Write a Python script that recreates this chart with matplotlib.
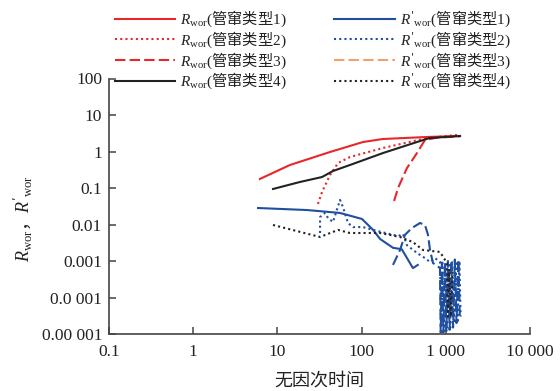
import matplotlib
matplotlib.use("Agg")
import matplotlib.pyplot as plt
from matplotlib.lines import Line2D
from matplotlib.ticker import FixedLocator, FixedFormatter, NullLocator

plt.rcParams['font.family'] = ['Liberation Serif', 'Noto Sans CJK SC']
plt.rcParams['mathtext.fontset'] = 'custom'
plt.rcParams['mathtext.rm'] = 'Noto Sans CJK SC'
plt.rcParams['mathtext.sf'] = 'Liberation Serif'
plt.rcParams['mathtext.it'] = 'Liberation Serif:italic'

# ---- data ----
r1_x = [6.2, 14.1, 42.2, 104, 179, 598, 1475]
r1_y = [0.177, 0.427, 0.97, 1.82, 2.2, 2.5, 2.66]

r2_x = [30.3, 33.9, 42.2, 52.5, 72.8, 180, 598, 1475]
r2_y = [0.0365, 0.078, 0.227, 0.484, 0.706, 1.25, 2.34, 2.9]

r3_x = [243, 271, 346, 455, 566, 800, 1475]
r3_y = [0.044, 0.1, 0.353, 0.91, 2.07, 2.4, 2.6]

r4_x = [8.87, 18.5, 33.9, 45.7, 72.8, 180, 455, 643, 1475]
r4_y = [0.094, 0.146, 0.2, 0.292, 0.427, 0.91, 1.82, 2.34, 2.66]

p1_x = [5.89, 22.5, 55.5, 101, 137, 166, 236, 300, 407, 465]
p1_y = [0.0283, 0.0249, 0.0207, 0.0142, 0.0071, 0.004, 0.0023, 0.0021, 0.00064, 0.00078]

p2_x = [32.1, 32.1, 36.7, 39.9, 45.7, 55.5, 60.1, 68.9, 79, 104, 137, 190, 271, 310,
        346, 455, 566, 649, 745, 853, 880, 910, 950, 990, 1030, 1080, 1130, 1190,
        1250, 1310, 1380, 1450, 1500]
p2_y = [0.00585, 0.016, 0.0207, 0.0151, 0.0117, 0.047, 0.030, 0.011, 0.0085, 0.0085,
        0.0071, 0.0059, 0.0048, 0.0055, 0.0027, 0.00166, 0.0012, 0.00094, 0.0012,
        0.00094, 0.000015, 0.0009, 0.000012, 0.0008, 0.000015, 0.0009, 0.000015,
        0.001, 0.00002, 0.001, 0.00002, 0.001, 0.00003]

p3_x = [236, 286, 327, 396, 494, 566, 615, 649, 705, 853, 870, 900, 935, 975, 1015,
        1060, 1110, 1160, 1220, 1280, 1340, 1410, 1470]
p3_y = [0.00078, 0.002, 0.0052, 0.008, 0.011, 0.0097, 0.0052, 0.002, 0.00088, 0.00064,
        0.000011, 0.0009, 0.000011, 0.0009, 0.000012, 0.001, 0.000013, 0.001, 0.000015,
        0.0011, 0.00002, 0.0011, 0.000025]

p4_x = [8.87, 32.1, 52.5, 72.8, 166, 286, 407, 536, 853, 1033, 1060, 1100, 1150, 1200]
p4_y = [0.0097, 0.00455, 0.0071, 0.00585, 0.00585, 0.00455, 0.0033, 0.002, 0.00177,
        0.00088, 0.00003, 0.0006, 0.00003, 0.0005]

x_ticks = [0.1, 1, 10, 100, 1000, 10000]
x_labels = ['0.1', '1', '10', '100', '1 000', '10 000']
y_ticks = [1e-5, 1e-4, 1e-3, 1e-2, 1e-1, 1, 10, 100]
y_labels = ['0.00 001', '0.0 001', '0.001', '0.01', '0.1', '1', '10', '100']

legend_labels = [r'$R_{\mathsf{wor}}\mathsf{(}\mathrm{管窜类型}\mathsf{1)}$',
                 r'$R_{\mathsf{wor}}\mathsf{(}\mathrm{管窜类型}\mathsf{2)}$',
                 r'$R_{\mathsf{wor}}\mathsf{(}\mathrm{管窜类型}\mathsf{3)}$',
                 r'$R_{\mathsf{wor}}\mathsf{(}\mathrm{管窜类型}\mathsf{4)}$',
                 r"$R'_{\mathsf{wor}}\mathsf{(}\mathrm{管窜类型}\mathsf{1)}$",
                 r"$R'_{\mathsf{wor}}\mathsf{(}\mathrm{管窜类型}\mathsf{2)}$",
                 r"$R'_{\mathsf{wor}}\mathsf{(}\mathrm{管窜类型}\mathsf{3)}$",
                 r"$R'_{\mathsf{wor}}\mathsf{(}\mathrm{管窜类型}\mathsf{4)}$"]

RED = '#e8272b'
BLUE = '#1f4f9f'
BLACK = '#222222'
ORANGE = '#f3a06e'

fig = plt.figure(figsize=(5.6, 3.91), dpi=100)
ax = fig.add_axes([109/560, 57/391, 421/560, 255.5/391])

lw = 1.5
dash = (0, (5, 2))
dot = (0, (1, 1.5))
h1, = ax.plot(r1_x, r1_y, color=RED, lw=lw, ls='-')
h2, = ax.plot(r2_x, r2_y, color=RED, lw=lw, ls=dot)
h3, = ax.plot(r3_x, r3_y, color=RED, lw=lw, ls=dash)
h4, = ax.plot(r4_x, r4_y, color=BLACK, lw=lw, ls='-')
h5, = ax.plot(p1_x, p1_y, color=BLUE, lw=lw, ls='-')
h6, = ax.plot(p2_x, p2_y, color=BLUE, lw=lw, ls=dot)
ax.plot(p3_x, p3_y, color=BLUE, lw=lw, ls=dash)
h7 = Line2D([], [], color=ORANGE, lw=lw, ls=dash)
h8, = ax.plot(p4_x, p4_y, color=BLACK, lw=lw, ls=dot)

ax.set_xscale('log')
ax.set_yscale('log')
ax.set_xlim(0.1, 10000)
ax.set_ylim(1e-5, 100)
ax.xaxis.set_major_locator(FixedLocator(x_ticks))
ax.xaxis.set_major_formatter(FixedFormatter(x_labels))
ax.yaxis.set_major_locator(FixedLocator(y_ticks))
ax.yaxis.set_major_formatter(FixedFormatter(y_labels))
ax.xaxis.set_minor_locator(NullLocator())
ax.yaxis.set_minor_locator(NullLocator())

for s in ['top', 'right']:
    ax.spines[s].set_visible(False)
for s in ['left', 'bottom']:
    ax.spines[s].set_color('#444444')
    ax.spines[s].set_linewidth(1.2)
ax.tick_params(axis='both', direction='in', length=5, width=1.1, color='#444444',
               labelsize=12.5, labelcolor='#222222')
ax.tick_params(axis='x', pad=7)
ax.tick_params(axis='y', pad=5)

fig.text(319.5/560, 1 - 381/391, '无因次时间', ha='center', va='center', fontsize=13,
         color='#222222')
fig.text(23/560, 1 - 218/391, r"$R_{\mathsf{wor}}\mathrm{，}R'_{\mathsf{wor}}$", rotation=90,
         ha='center', va='center', fontsize=13, color='#222222')

handles = [h1, h2, h3, h4, h5, h6, h7, h8]
leg = fig.legend(handles, legend_labels, ncol=2, loc='upper left',
                 bbox_to_anchor=(115/560, 1 - 9/391), frameon=False, fontsize=11,
                 handlelength=3.95, handletextpad=0.33, columnspacing=3.1,
                 labelspacing=0.02, borderpad=0, borderaxespad=0)
for t in leg.get_texts():
    t.set_color('#222222')

fig.savefig('out.png', dpi=100)
